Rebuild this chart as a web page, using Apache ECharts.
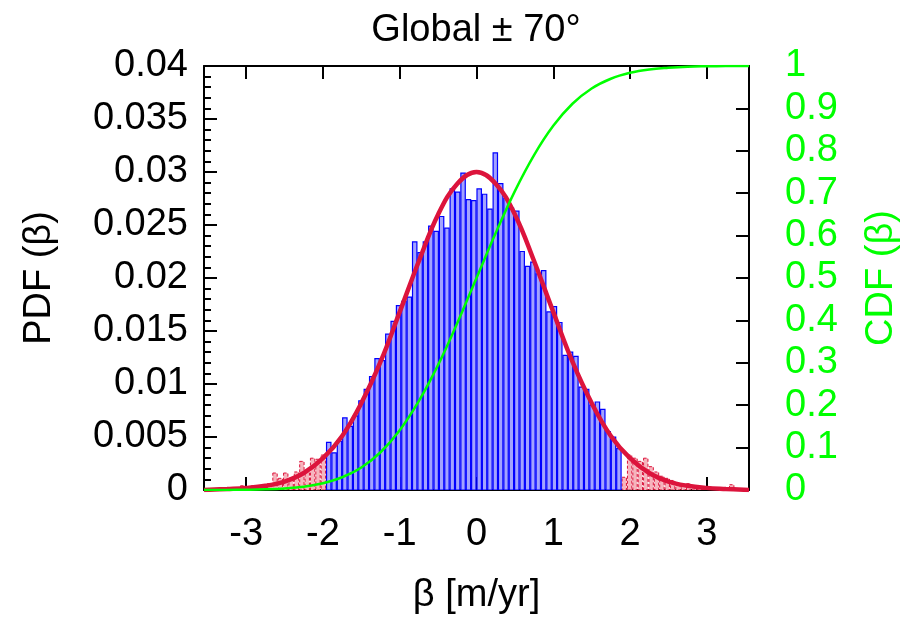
<!DOCTYPE html>
<html>
<head>
<meta charset="utf-8">
<title>Global ± 70°</title>
<script src="https://cdn.jsdelivr.net/npm/echarts@6/dist/echarts.min.js"></script>
<style>
  html, body { margin: 0; padding: 0; background: #fff; }
  #chart { width: 916px; height: 625px; }
</style>
</head>
<body>
<div id="chart"></div>
<script>
// histogram bins: edges every 0.07, first edge at -3.57
const binStart = -3.57;
const binWidth = 0.07;

// PDF per bin, lower tail (beta below -1.96), drawn pink
const tailLow = [
    0.0001, 0.0001, 0.0001, 0.0001, 0.0001, 0.0002, 0.0002, 0.0004, 0.0003, 0.0004,
    0.0004, 0.0005, 0.0006, 0.0016, 0.0011, 0.0016, 0.0011, 0.0017, 0.0027, 0.0017,
    0.0030, 0.0029, 0.0033
];
// PDF per bin, -1.96 .. 1.89, drawn blue
const core = [
    0.0045, 0.0035, 0.0046, 0.0068, 0.0060, 0.0070, 0.0084, 0.0095, 0.0107, 0.0124,
    0.0122, 0.0147, 0.0159, 0.0174, 0.0178, 0.0182, 0.0234, 0.0224, 0.0234, 0.0249,
    0.0244, 0.0258, 0.0247, 0.0284, 0.0281, 0.0299, 0.0274, 0.0273, 0.0284, 0.0279,
    0.0265, 0.0318, 0.0289, 0.0275, 0.0266, 0.0263, 0.0225, 0.0211, 0.0215, 0.0204,
    0.0207, 0.0168, 0.0173, 0.0158, 0.0127, 0.0130, 0.0126, 0.0097, 0.0095, 0.0080,
    0.0083, 0.0076, 0.0055, 0.0050, 0.0039
];
// PDF per bin, upper tail, drawn pink
const tailHigh = [
    0.0012, 0.0033, 0.0030, 0.0027, 0.0030, 0.0022, 0.0017, 0.0013, 0.0011, 0.0009,
    0.0006, 0.0006, 0.0006, 0.0004, 0.0003, 0.0002, 0.0002, 0.0001, 0.0001, 0.0001,
    0.0005, 0.0001, 0.0001, 0.0001
];

// fitted curves
const curveX = [-3.55, -3.25, -3, -2.75, -2.5, -2.25, -2, -1.75, -1.5, -1.25, -1, -0.75, -0.5, -0.25,
    0, 0.25, 0.5, 0.75, 1, 1.25, 1.5, 1.75, 2, 2.25, 2.5, 2.75, 3, 3.25, 3.55];
const pdfFit = [0.0000, 0.0001, 0.0002, 0.0004, 0.0008, 0.0016, 0.0030, 0.0051, 0.0082, 0.0121, 0.0168,
    0.0216, 0.0260, 0.0289, 0.0300, 0.0289, 0.0260, 0.0216, 0.0168, 0.0121, 0.0082, 0.0051,
    0.0030, 0.0016, 0.0008, 0.0004, 0.0002, 0.0001, 0.0000];
const cdf = [0, 0.0002, 0.0006, 0.0015, 0.0036, 0.0078, 0.016, 0.030, 0.053, 0.089, 0.141,
    0.210, 0.295, 0.394, 0.500, 0.606, 0.705, 0.790, 0.859, 0.911, 0.947, 0.970,
    0.984, 0.992, 0.996, 0.9985, 0.9994, 0.9998, 1.0];

const xTicks = [-3, -2, -1, 0, 1, 2, 3];

const font = { fontFamily: 'Liberation Sans', fontSize: 38, color: '#000' };
const black = { color: '#000', width: 2 };

function toBins(values, first) {
    return values.map((v, i) => [binStart + (first + i + 0.5) * binWidth, v]);
}

function binRenderer(style) {
    return function (params, api) {
        const x = api.value(0);
        const top = api.coord([x - binWidth / 2, api.value(1)]);
        const base = api.coord([x + binWidth / 2, 0]);
        return {
            type: 'rect',
            shape: { x: top[0] + 0.5, y: top[1], width: base[0] - top[0] - 1, height: base[1] - top[1] },
            style: style
        };
    };
}

const myChart = echarts.init(document.getElementById('chart'));

const blueStyle = { fill: '#a3a3ff', stroke: '#0000ff', lineWidth: 1.2 };
const pinkStyle = { fill: '#f6b4bd', stroke: '#dc143c', lineWidth: 1, lineDash: [3, 2] };

const option = {
    animation: false,
    backgroundColor: '#fff',
    grid: { left: 204, right: 167, top: 66, bottom: 135 },
    graphic: [{
        type: 'text',
        x: 476,
        y: 31,
        style: {
            text: 'Global ± 70°',
            font: '38px "Liberation Sans"',
            fill: '#000',
            textAlign: 'center',
            textVerticalAlign: 'middle'
        }
    }],
    xAxis: [{
        type: 'value',
        position: 'bottom',
        min: -3.55,
        max: 3.55,
        name: 'β [m/yr]',
        nameLocation: 'middle',
        nameGap: 87,
        nameTextStyle: font,
        axisLine: { onZero: false, lineStyle: black },
        axisTick: { inside: true, length: 13, customValues: xTicks, lineStyle: black },
        axisLabel: Object.assign({ customValues: xTicks, margin: 26 }, font),
        splitLine: { show: false }
    }, {
        type: 'value',
        position: 'top',
        min: -3.55,
        max: 3.55,
        axisLine: { onZero: false, lineStyle: black },
        axisTick: { inside: true, length: 13, customValues: xTicks, lineStyle: black },
        axisLabel: { show: false },
        splitLine: { show: false }
    }],
    yAxis: [{
        type: 'value',
        position: 'left',
        min: 0,
        max: 0.04,
        interval: 0.005,
        name: 'PDF (β)',
        nameLocation: 'middle',
        nameGap: 145,
        nameTextStyle: font,
        axisLine: { show: true, onZero: false, lineStyle: black },
        axisTick: { show: true, inside: true, length: 13, lineStyle: black },
        minorTick: { show: true, splitNumber: 5, length: 7, lineStyle: black },
        axisLabel: Object.assign({ margin: 16 }, font),
        splitLine: { show: false }
    }, {
        type: 'value',
        position: 'right',
        min: 0,
        max: 1,
        interval: 0.1,
        name: 'CDF (β)',
        nameLocation: 'middle',
        nameGap: 114,
        nameTextStyle: Object.assign({}, font, { color: '#00ff00' }),
        axisLine: { show: true, onZero: false, lineStyle: black },
        axisTick: { show: true, inside: true, length: 13, lineStyle: black },
        axisLabel: Object.assign({}, font, { color: '#00ff00', margin: 36 }),
        splitLine: { show: false }
    }],
    series: [{
        type: 'custom',
        name: 'tails',
        clip: true,
        xAxisIndex: 0,
        yAxisIndex: 0,
        renderItem: binRenderer(pinkStyle),
        data: toBins(tailLow, 0).concat(toBins(tailHigh, tailLow.length + core.length))
    }, {
        type: 'custom',
        name: 'histogram',
        clip: true,
        xAxisIndex: 0,
        yAxisIndex: 0,
        renderItem: binRenderer(blueStyle),
        data: toBins(core, tailLow.length)
    }, {
        type: 'line',
        name: 'PDF fit',
        xAxisIndex: 0,
        yAxisIndex: 0,
        smooth: 0.4,
        symbol: 'none',
        lineStyle: { color: '#dc143c', width: 4.5 },
        data: curveX.map((x, i) => [x, pdfFit[i]])
    }, {
        type: 'line',
        name: 'CDF',
        xAxisIndex: 0,
        yAxisIndex: 1,
        smooth: 0.4,
        symbol: 'none',
        lineStyle: { color: '#00ff00', width: 2.5 },
        data: curveX.map((x, i) => [x, cdf[i]])
    }]
};

myChart.setOption(option);
</script>
</body>
</html>
